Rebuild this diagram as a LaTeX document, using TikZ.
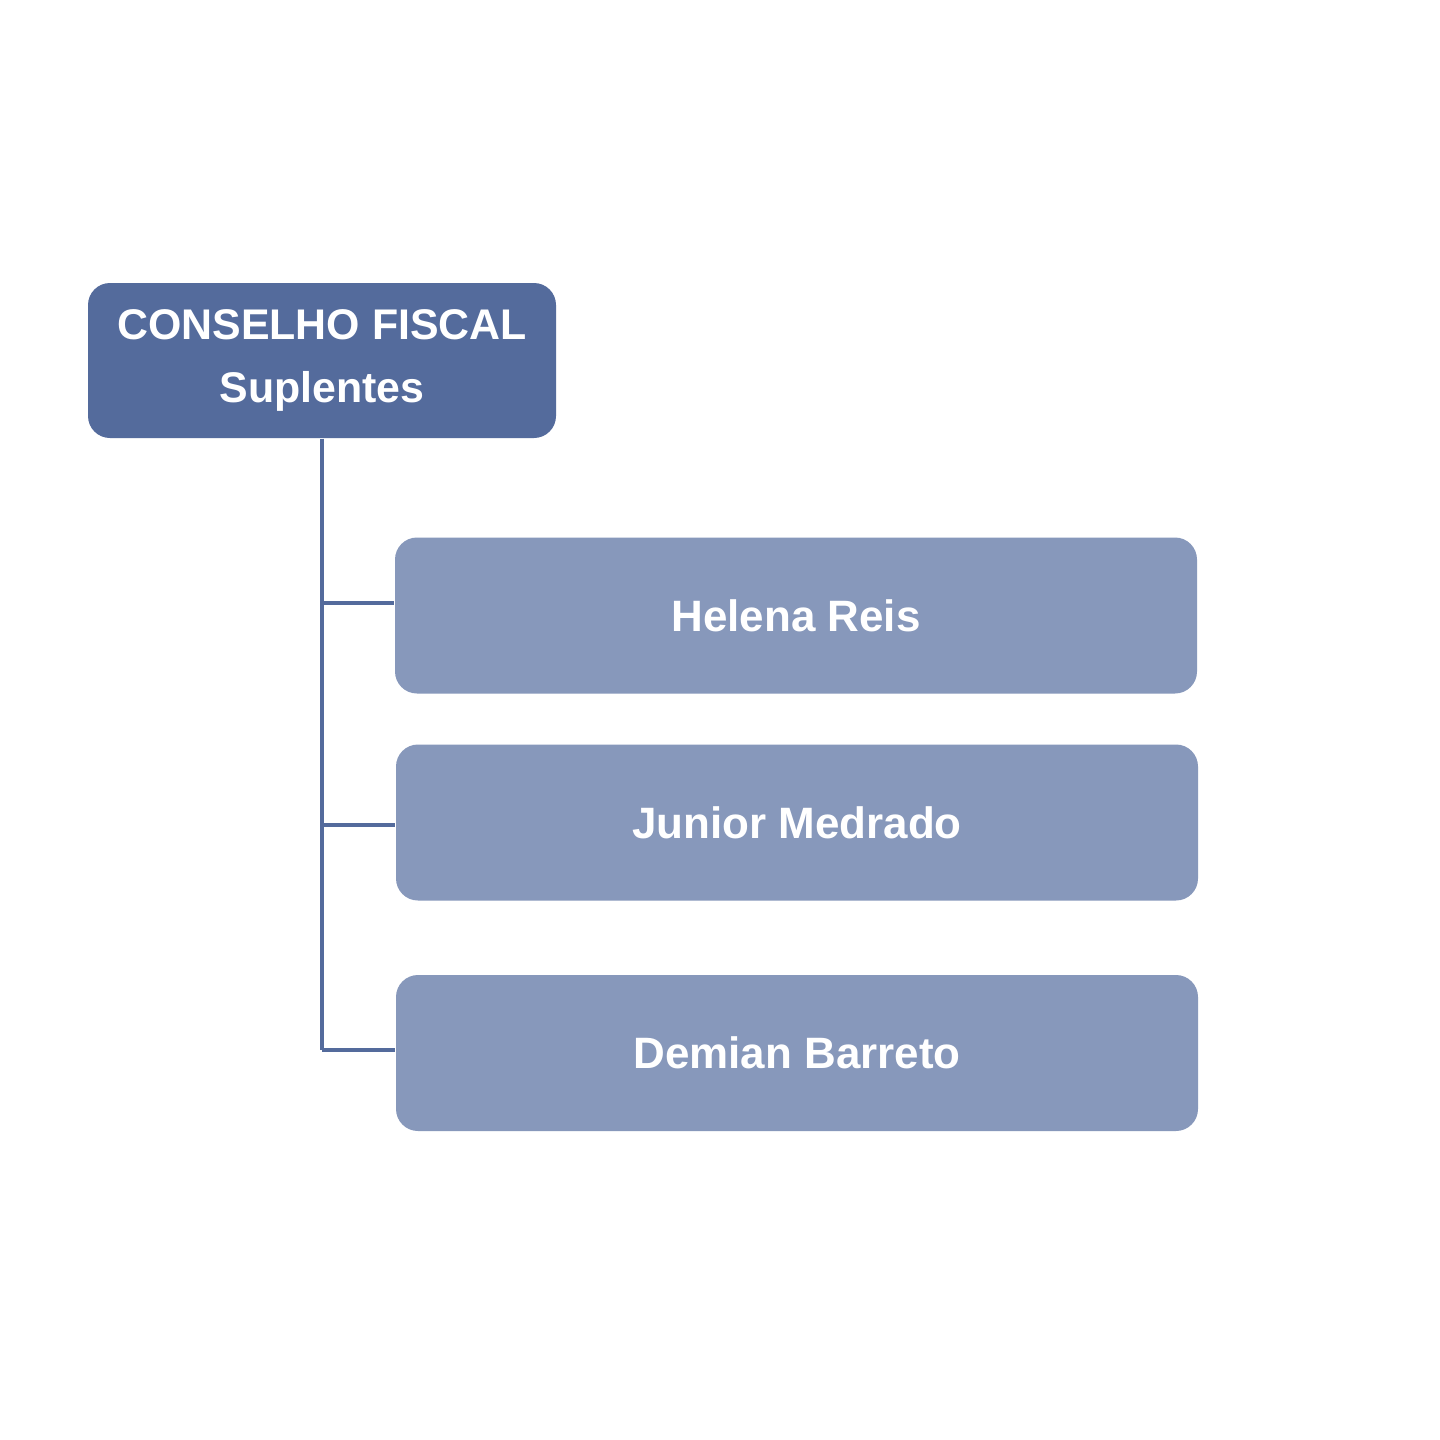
\documentclass[tikz,border=0pt]{standalone}
\usepackage{fontspec}
\setmainfont{Liberation Sans}
\usepackage{xcolor}
\usetikzlibrary{positioning}
\definecolor{headblue}{HTML}{546B9C}
\definecolor{memberblue}{HTML}{8798BB}

\begin{document}
\begin{tikzpicture}[
  x=1cm,y=1cm,
  head/.style={fill=headblue,rounded corners=0.22cm,text=white,
    font=\bfseries\fontsize{12.2}{18}\selectfont,align=center,
    minimum width=4.68cm,minimum height=1.55cm,inner sep=0pt},
  member/.style={fill=memberblue,rounded corners=0.22cm,text=white,
    font=\bfseries\fontsize{12.5}{18}\selectfont,align=center,
    minimum width=8.02cm,minimum height=1.56cm,inner sep=0pt},
  branch/.style={draw=headblue,line width=1.35pt}
]
\useasboundingbox (0,0) rectangle (14.4,-14.4);
\fill[white] (0,0) rectangle (14.4,-14.4);

\node[head] (council) at (3.22,-3.605) {CONSELHO FISCAL\\Suplentes};

\node[member] (helena) at (7.96,-6.155) {Helena Reis};
\node[member] (junior) at (7.97,-8.225) {Junior Medrado};
\node[member] (demian) at (7.97,-10.53) {Demian Barreto};

\coordinate (j1) at (3.22,-6.03);
\coordinate (j2) at (3.22,-8.25);
\coordinate (j3) at (3.22,-10.50);

\draw[branch] (council.south) -- (j3);
\draw[branch] (j1) -- (j1 -| helena.west);
\draw[branch] (j2) -- (j2 -| junior.west);
\draw[branch] (j3) -- (j3 -| demian.west);
\end{tikzpicture}
\end{document}
